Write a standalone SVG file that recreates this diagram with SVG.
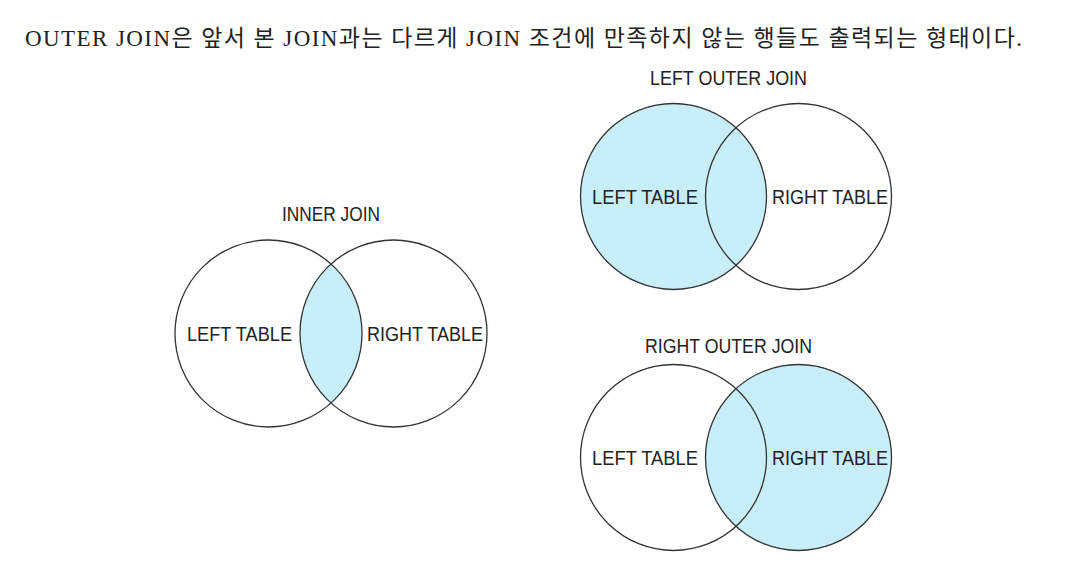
<svg xmlns="http://www.w3.org/2000/svg" width="1077" height="563" viewBox="0 0 1077 563">
<style>
.hdr{font-family:"Liberation Serif","Noto Sans CJK KR",serif;font-size:23px;fill:#222}
.lbl{font-family:"Liberation Sans",Arial,sans-serif;font-size:20px;fill:#222}
.ttl{font-family:"Liberation Sans",Arial,sans-serif;font-size:19.5px;fill:#222}
.ring{fill:none;stroke:#333;stroke-width:1.3}
.fill{fill:#c8eff9}
</style>
<defs>
<clipPath id="clipInnerL"><circle cx="268.5" cy="333.5" r="93.5"/></clipPath>
</defs>
<rect width="1077" height="563" fill="#fff"/>
<g id="header">
<text class="hdr" x="25" y="46" textLength="997" lengthAdjust="spacing">OUTER JOIN은 앞서 본 JOIN과는 다르게 JOIN 조건에 만족하지 않는 행들도 출력되는 형태이다.</text>
</g>
<g id="inner-join">
<circle class="fill" cx="393.5" cy="333.5" r="93.5" clip-path="url(#clipInnerL)"/>
<circle class="ring" cx="268.5" cy="333.5" r="93.5"/>
<circle class="ring" cx="393.5" cy="333.5" r="93.5"/>
<text class="ttl" x="282" y="221" textLength="98" lengthAdjust="spacingAndGlyphs">INNER JOIN</text>
<text class="lbl" x="187" y="341" textLength="105" lengthAdjust="spacingAndGlyphs">LEFT TABLE</text>
<text class="lbl" x="367" y="341" textLength="116" lengthAdjust="spacingAndGlyphs">RIGHT TABLE</text>
</g>
<g id="left-outer-join">
<circle class="fill" cx="673.5" cy="196.5" r="93"/>
<circle class="ring" cx="673.5" cy="196.5" r="93"/>
<circle class="ring" cx="798.5" cy="196.5" r="93"/>
<text class="ttl" x="650" y="85" textLength="157" lengthAdjust="spacingAndGlyphs">LEFT OUTER JOIN</text>
<text class="lbl" x="592" y="204" textLength="106" lengthAdjust="spacingAndGlyphs">LEFT TABLE</text>
<text class="lbl" x="772" y="204" textLength="116" lengthAdjust="spacingAndGlyphs">RIGHT TABLE</text>
</g>
<g id="right-outer-join">
<circle class="fill" cx="798.5" cy="457.5" r="93"/>
<circle class="ring" cx="673.5" cy="457.5" r="93"/>
<circle class="ring" cx="798.5" cy="457.5" r="93"/>
<text class="ttl" x="645" y="353" textLength="167" lengthAdjust="spacingAndGlyphs">RIGHT OUTER JOIN</text>
<text class="lbl" x="592" y="465" textLength="106" lengthAdjust="spacingAndGlyphs">LEFT TABLE</text>
<text class="lbl" x="772" y="465" textLength="116" lengthAdjust="spacingAndGlyphs">RIGHT TABLE</text>
</g>
<g id="connectors"></g>
</svg>
